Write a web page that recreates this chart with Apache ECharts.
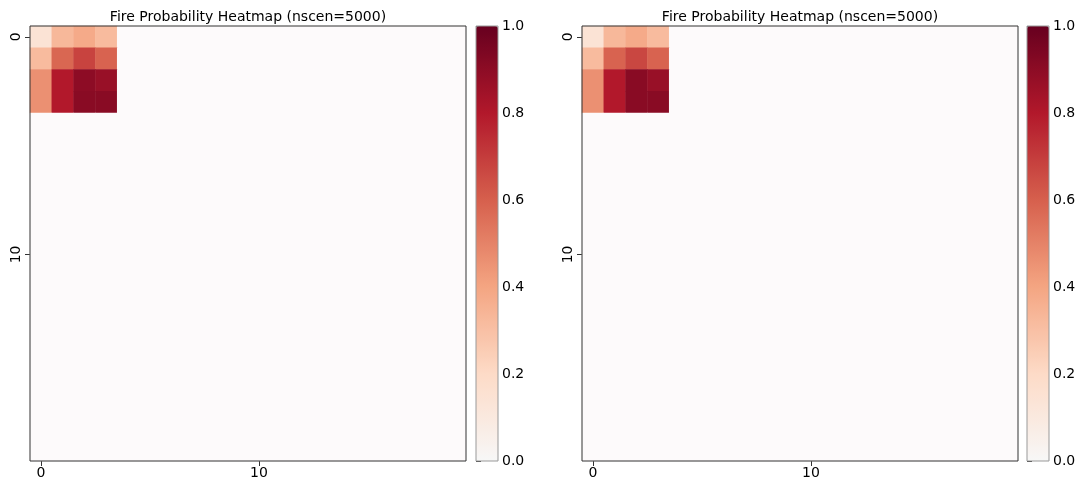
<!DOCTYPE html>
<html>
<head>
<meta charset="utf-8">
<script src="https://cdn.jsdelivr.net/npm/echarts@6/dist/echarts.min.js"></script>
<style>
html,body{margin:0;padding:0;background:#fff;}
#chart{width:1083px;height:482px;}
</style>
</head>
<body>
<div id="chart"></div>
<script>
// ---- data ----
var gridSize = 20;
var titles = ['Fire Probability Heatmap (nscen=5000)', 'Fire Probability Heatmap (nscen=5000)'];
// non-zero block (rows 0-3, cols 0-3); every other cell is 0
var blockA = [
  [0.14, 0.33, 0.38, 0.32],
  [0.32, 0.58, 0.68, 0.59],
  [0.46, 0.80, 0.90, 0.87],
  [0.46, 0.80, 0.91, 0.91]
];
var blockB = [
  [0.14, 0.33, 0.38, 0.32],
  [0.32, 0.59, 0.67, 0.59],
  [0.46, 0.80, 0.91, 0.87],
  [0.46, 0.80, 0.91, 0.91]
];
var colorbarTicks = [0, 0.2, 0.4, 0.6, 0.8, 1.0];
var axisTickLabels = ['0', '10'];

// ---- build ----
var cats = [];
for (var i = 0; i < gridSize; i++) cats.push(String(i));
function buildCells(block) {
  var out = [];
  for (var r = 0; r < gridSize; r++) {
    for (var c = 0; c < gridSize; c++) {
      var v = (r < block.length && c < block[r].length) ? block[r][c] : 0;
      out.push([c, r, v]);
    }
  }
  return out;
}
function showTick(idx, v) { return axisTickLabels.indexOf(String(v)) >= 0; }
var cmap = ['#f7f7f7', '#fddbc7', '#f4a582', '#d6604d', '#b2182b', '#67001f'];
var font = 'DejaVu Sans';
var panels = [
  {left: 30, cbLeft: 476, block: blockA},
  {left: 582, cbLeft: 1027, block: blockB}
];
var plotTop = 26, plotH = 435, plotW = 436, cbW = 22;
var tickFont = 14;

var option = {
  backgroundColor: '#fff',
  animation: false,
  textStyle: {fontFamily: font},
  title: [], grid: [], xAxis: [], yAxis: [], series: [], visualMap: []
};
panels.forEach(function (p, k) {
  option.title.push({
    text: titles[k], left: p.left + plotW / 2 - 5, top: 5, textAlign: 'center',
    textStyle: {fontFamily: font, fontSize: 14, fontWeight: 'normal', color: '#000'}
  });
  option.grid.push({left: p.left, top: plotTop, width: plotW, height: plotH, show: true,
    borderColor: '#333', borderWidth: 1, backgroundColor: 'transparent', z: 5});
  option.grid.push({left: p.cbLeft, top: plotTop, width: cbW, height: plotH, show: true,
    borderColor: '#999', borderWidth: 1, backgroundColor: 'transparent', z: 6});
  var gi = k * 2;
  option.xAxis.push({
    type: 'category', gridIndex: gi, data: cats, position: 'bottom',
    axisLine: {show: false},
    axisTick: {show: true, interval: showTick, alignWithLabel: true, length: 5, lineStyle: {color: '#333'}},
    axisLabel: {interval: showTick, color: '#000', fontSize: tickFont, fontFamily: font, margin: 5},
    splitLine: {show: false}
  });
  option.yAxis.push({
    type: 'category', gridIndex: gi, data: cats, inverse: true,
    axisLine: {show: false},
    axisTick: {show: true, interval: showTick, alignWithLabel: true, length: 5, lineStyle: {color: '#333'}},
    axisLabel: {interval: showTick, color: '#000', fontSize: tickFont, fontFamily: font, rotate: 90, margin: 7},
    splitLine: {show: false}
  });
  option.xAxis.push({type: 'value', gridIndex: gi + 1, show: false, min: 0, max: 1});
  option.yAxis.push({
    type: 'value', gridIndex: gi + 1, position: 'right', min: 0, max: 1, interval: 0.2,
    axisLine: {show: false},
    axisTick: {show: true, length: 5, lineStyle: {color: '#333'}},
    axisLabel: {color: '#000', fontSize: tickFont, fontFamily: font, margin: 4,
      formatter: function (v) { return colorbarTicks.indexOf(Math.round(v * 10) / 10) >= 0 ? v.toFixed(1) : ''; }},
    splitLine: {show: false}
  });
});
// heatmap series 0,1 ; empty placeholder series 2,3 (colorbar grids)
panels.forEach(function (p, k) {
  option.series.push({
    type: 'heatmap', xAxisIndex: k * 2, yAxisIndex: k * 2, data: buildCells(p.block),
    itemStyle: {borderWidth: 0}, emphasis: {disabled: true}, progressive: 0
  });
});
panels.forEach(function (p, k) {
  option.series.push({type: 'scatter', xAxisIndex: k * 2 + 1, yAxisIndex: k * 2 + 1, data: [], silent: true});
});
panels.forEach(function (p, k) {
  // displayed colorbar
  option.visualMap.push({
    type: 'continuous', seriesIndex: 2 + k, min: 0, max: 1,
    calculable: false, orient: 'vertical', hoverLink: false,
    left: p.cbLeft, top: plotTop, itemWidth: cbW, itemHeight: plotH, padding: 0,
    text: null, inRange: {color: cmap}
  });
  // colour mapping of the cells (zeros shown as near-white background)
  option.visualMap.push({
    type: 'continuous', show: false, seriesIndex: k, min: 0, max: 1, range: [0.000001, 1],
    inRange: {color: cmap}, outOfRange: {color: '#fdfafb'}
  });
});

var chart = echarts.init(document.getElementById('chart'), null, {renderer: 'canvas'});
chart.setOption(option);
</script>
</body>
</html>
